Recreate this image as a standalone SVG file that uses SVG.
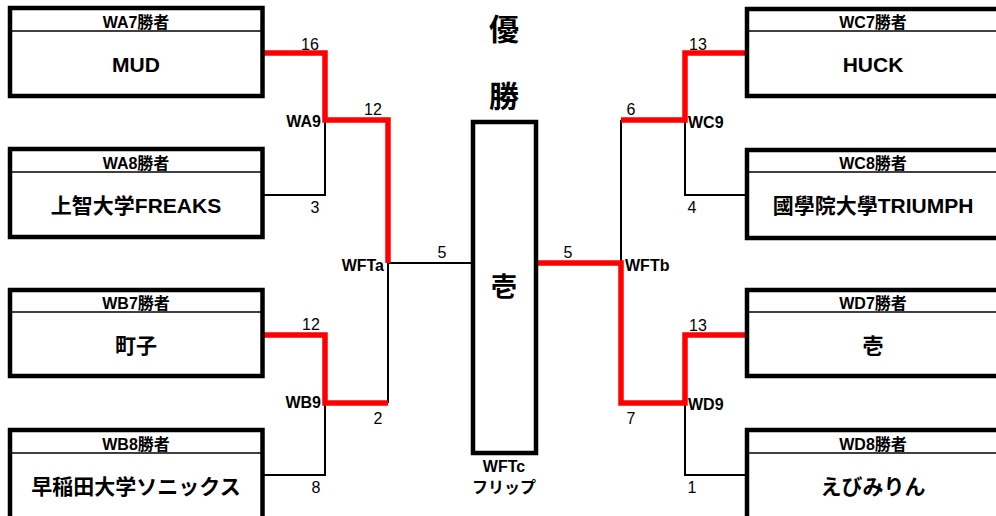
<svg xmlns="http://www.w3.org/2000/svg" width="996" height="516" viewBox="0 0 996 516">
<style>
text{font-family:"Liberation Sans","Noto Sans CJK JP",sans-serif;fill:#000}
.box{fill:#fff;stroke:#000;stroke-width:4.5}
.div{stroke:#000;stroke-width:1.6}
.hd{font-size:16px;font-weight:bold;text-anchor:middle}
.nm{font-size:21px;font-weight:bold;text-anchor:middle}
.num{font-size:16px;text-anchor:middle}
.lb{font-size:16px;font-weight:bold}
.blk{fill:none;stroke:#000;stroke-width:2}
.red{fill:none;stroke:#f00;stroke-width:5.5;stroke-linejoin:miter}
.big{font-size:30px;font-weight:bold;text-anchor:middle}
</style>
<rect width="996" height="516" fill="#fff"/>
<g id="connectors">
<path class="blk" d="M262.5 195H325V120"/>
<path class="blk" d="M262.5 475H325V403"/>
<path class="blk" d="M388 403V263H473"/>
<path class="blk" d="M621 263V120"/>
<path class="blk" d="M747 195H685V120"/>
<path class="blk" d="M747 475H685V403"/>
<path class="red" d="M262.5 53H325V120H388V263"/>
<path class="red" d="M262.5 335H325V403H388"/>
<path class="red" d="M536 263H621V403H685V335H747"/>
<path class="red" d="M621 120H685V53H747"/>
</g>
<g id="labels">
<text class="num" x="310" y="50">16</text>
<text class="num" x="373" y="115">12</text>
<text class="lb" x="321" y="127" text-anchor="end">WA9</text>
<text class="num" x="315" y="213">3</text>
<text class="lb" x="384" y="271" text-anchor="end">WFTa</text>
<text class="num" x="311" y="330">12</text>
<text class="lb" x="321" y="408" text-anchor="end">WB9</text>
<text class="num" x="378" y="424">2</text>
<text class="num" x="316" y="493">8</text>
<text class="num" x="442" y="258">5</text>
<text class="num" x="568" y="258">5</text>
<text class="lb" x="625" y="271">WFTb</text>
<text class="num" x="631" y="115">6</text>
<text class="num" x="631" y="424">7</text>
<text class="num" x="698" y="50">13</text>
<text class="lb" x="688" y="128">WC9</text>
<text class="num" x="692" y="213">4</text>
<text class="num" x="698" y="331">13</text>
<text class="lb" x="688" y="410">WD9</text>
<text class="num" x="692" y="493">1</text>
</g>
<g id="title">
<text class="big" x="504" y="40">優</text>
<text class="big" x="504" y="107">勝</text>
</g>
<g id="final">
<rect class="box" x="473" y="122" width="63" height="331"/>
<text class="nm" x="504" y="296" font-size="26" style="font-size:26px">壱</text>
<text class="lb" x="504" y="472" text-anchor="middle">WFTc</text>
<text class="lb" x="504" y="493" text-anchor="middle">フリップ</text>
</g>
<g id="WA7">
<rect class="box" x="10" y="8" width="252.5" height="88"/>
<line class="div" x1="10" y1="31" x2="262.5" y2="31"/>
<text class="hd" x="136" y="28">WA7勝者</text>
<text class="nm" x="136" y="72">MUD</text>
</g>
<g id="WA8">
<rect class="box" x="10" y="149" width="252.5" height="88"/>
<line class="div" x1="10" y1="172" x2="262.5" y2="172"/>
<text class="hd" x="136" y="169">WA8勝者</text>
<text class="nm" x="136" y="213">上智大学FREAKS</text>
</g>
<g id="WB7">
<rect class="box" x="10" y="290" width="252.5" height="86"/>
<line class="div" x1="10" y1="312" x2="262.5" y2="312"/>
<text class="hd" x="136" y="309">WB7勝者</text>
<text class="nm" x="136" y="353">町子</text>
</g>
<g id="WB8">
<rect class="box" x="10" y="430" width="252.5" height="92"/>
<line class="div" x1="10" y1="453" x2="262.5" y2="453"/>
<text class="hd" x="136" y="450">WB8勝者</text>
<text class="nm" x="136" y="494">早稲田大学ソニックス</text>
</g>
<g id="WC7">
<rect class="box" x="747" y="9" width="254" height="87"/>
<line class="div" x1="747" y1="31" x2="1000" y2="31"/>
<text class="hd" x="873" y="28">WC7勝者</text>
<text class="nm" x="873" y="72">HUCK</text>
</g>
<g id="WC8">
<rect class="box" x="747" y="150" width="254" height="88"/>
<line class="div" x1="747" y1="172" x2="1000" y2="172"/>
<text class="hd" x="873" y="169">WC8勝者</text>
<text class="nm" x="873" y="213">國學院大學TRIUMPH</text>
</g>
<g id="WD7">
<rect class="box" x="747" y="290" width="254" height="86"/>
<line class="div" x1="747" y1="312" x2="1000" y2="312"/>
<text class="hd" x="873" y="309">WD7勝者</text>
<text class="nm" x="873" y="353">壱</text>
</g>
<g id="WD8">
<rect class="box" x="747" y="430" width="254" height="92"/>
<line class="div" x1="747" y1="453" x2="1000" y2="453"/>
<text class="hd" x="873" y="450">WD8勝者</text>
<text class="nm" x="873" y="494">えびみりん</text>
</g>
</svg>
